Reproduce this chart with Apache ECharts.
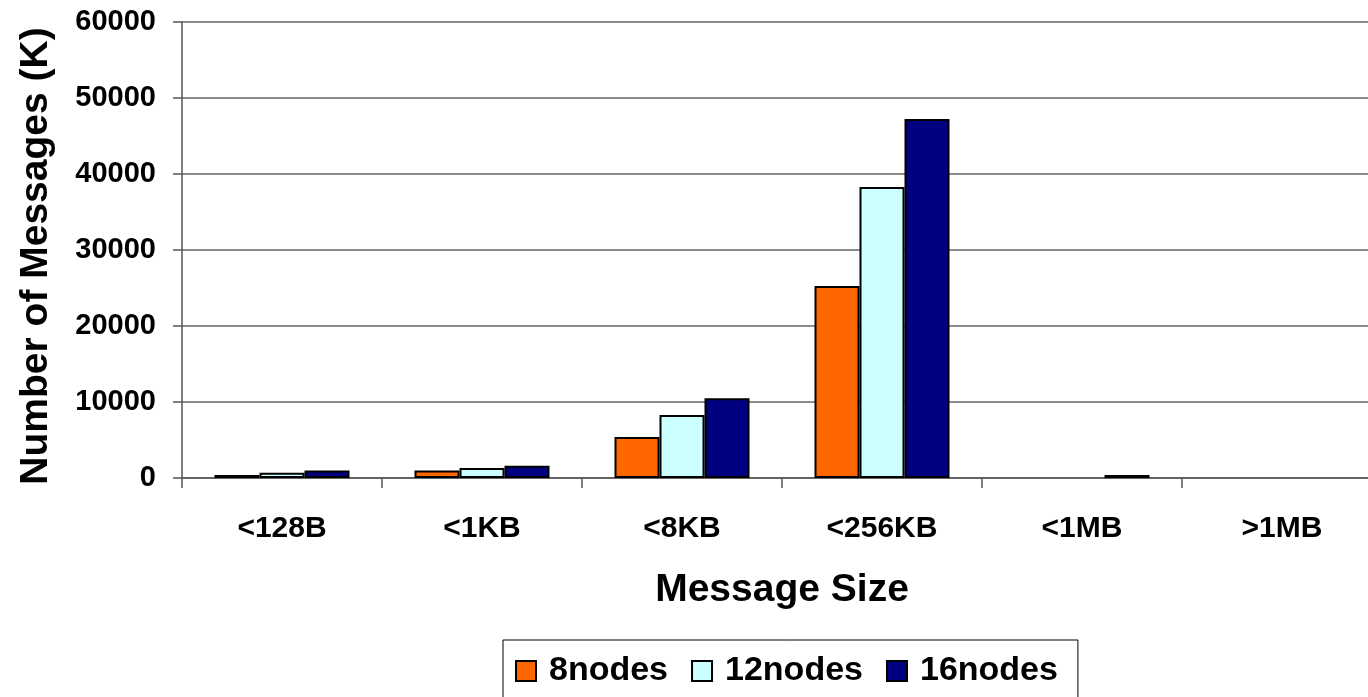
<!DOCTYPE html>
<html>
<head>
<meta charset="utf-8">
<script src="https://cdn.jsdelivr.net/npm/echarts@6/dist/echarts.min.js"></script>
<style>
  html, body { margin: 0; padding: 0; background: #ffffff; }
  #chart { width: 1368px; height: 697px; }
</style>
</head>
<body>
<div id="chart"></div>
<script>
// Message size buckets
const categories = ['<128B', '<1KB', '<8KB', '<256KB', '<1MB', '>1MB'];
// Number of messages (thousands) per bucket for each cluster size
const nodes8 = [400, 1000, 5400, 25250, 0, 0];
const nodes12 = [700, 1300, 8300, 38300, 0, 0];
const nodes16 = [1000, 1600, 10500, 47250, 400, 0];
const yTicks = { min: 0, max: 60000, interval: 10000 };

const FONT = '"Liberation Sans", Arial, sans-serif';

function barSeries(name, data, color) {
  return {
    name: name,
    type: 'bar',
    // empty buckets get no outline so nothing is drawn over the axis
    data: data.map(function (v) {
      return v === 0 ? { value: v, itemStyle: { borderWidth: 0 } } : v;
    }),
    barGap: '0%',
    barCategoryGap: '32.5%',
    itemStyle: { color: color, borderColor: '#000000', borderWidth: 2 },
    emphasis: { disabled: true }
  };
}

const chart = echarts.init(document.getElementById('chart'), null, { renderer: 'canvas' });
chart.setOption({
  animation: false,
  backgroundColor: '#ffffff',
  textStyle: { fontFamily: FONT },
  grid: { left: 182, top: 22, width: 1200, height: 456, containLabel: false, outerBoundsMode: 'none' },
  legend: {
    left: 503,
    top: 640,
    padding: [14, 20, 20, 12],
    itemGap: 23,
    itemWidth: 20,
    itemHeight: 20,
    icon: 'rect',
    borderColor: '#000000',
    borderWidth: 1,
    textStyle: { fontFamily: FONT, fontSize: 34, fontWeight: 'bold', color: '#000000', padding: [0, 0, 0, 8] },
    data: ['8nodes', '12nodes', '16nodes']
  },
  xAxis: {
    type: 'category',
    data: categories,
    name: 'Message Size',
    nameLocation: 'middle',
    nameGap: 93,
    nameTextStyle: { fontFamily: FONT, fontSize: 39, fontWeight: 'bold', color: '#000000' },
    axisLine: { lineStyle: { color: '#555555', width: 1.5 } },
    axisTick: { show: true, length: 10, alignWithLabel: false, lineStyle: { color: '#555555', width: 1.5 } },
    axisLabel: { margin: 36, fontFamily: FONT, fontSize: 30, fontWeight: 'bold', color: '#000000' }
  },
  yAxis: {
    type: 'value',
    min: yTicks.min,
    max: yTicks.max,
    interval: yTicks.interval,
    name: 'Number of Messages (K)',
    nameLocation: 'middle',
    nameGap: 126,
    nameTextStyle: { fontFamily: FONT, fontSize: 39, fontWeight: 'bold', color: '#000000', padding: [0, 12, 0, 0] },
    axisLine: { show: true, lineStyle: { color: '#555555', width: 1.5 } },
    axisTick: { show: true, length: 9, lineStyle: { color: '#555555', width: 1.5 } },
    axisLabel: {
      margin: 26, fontFamily: FONT, fontSize: 29, fontWeight: 'bold', color: '#000000',
      formatter: function (v) { return String(v); }
    },
    splitLine: { show: true, lineStyle: { color: '#666666', width: 1.5 } }
  },
  series: [
    barSeries('8nodes', nodes8, '#ff6600'),
    barSeries('12nodes', nodes12, '#ccffff'),
    barSeries('16nodes', nodes16, '#000080')
  ]
});
</script>
</body>
</html>
